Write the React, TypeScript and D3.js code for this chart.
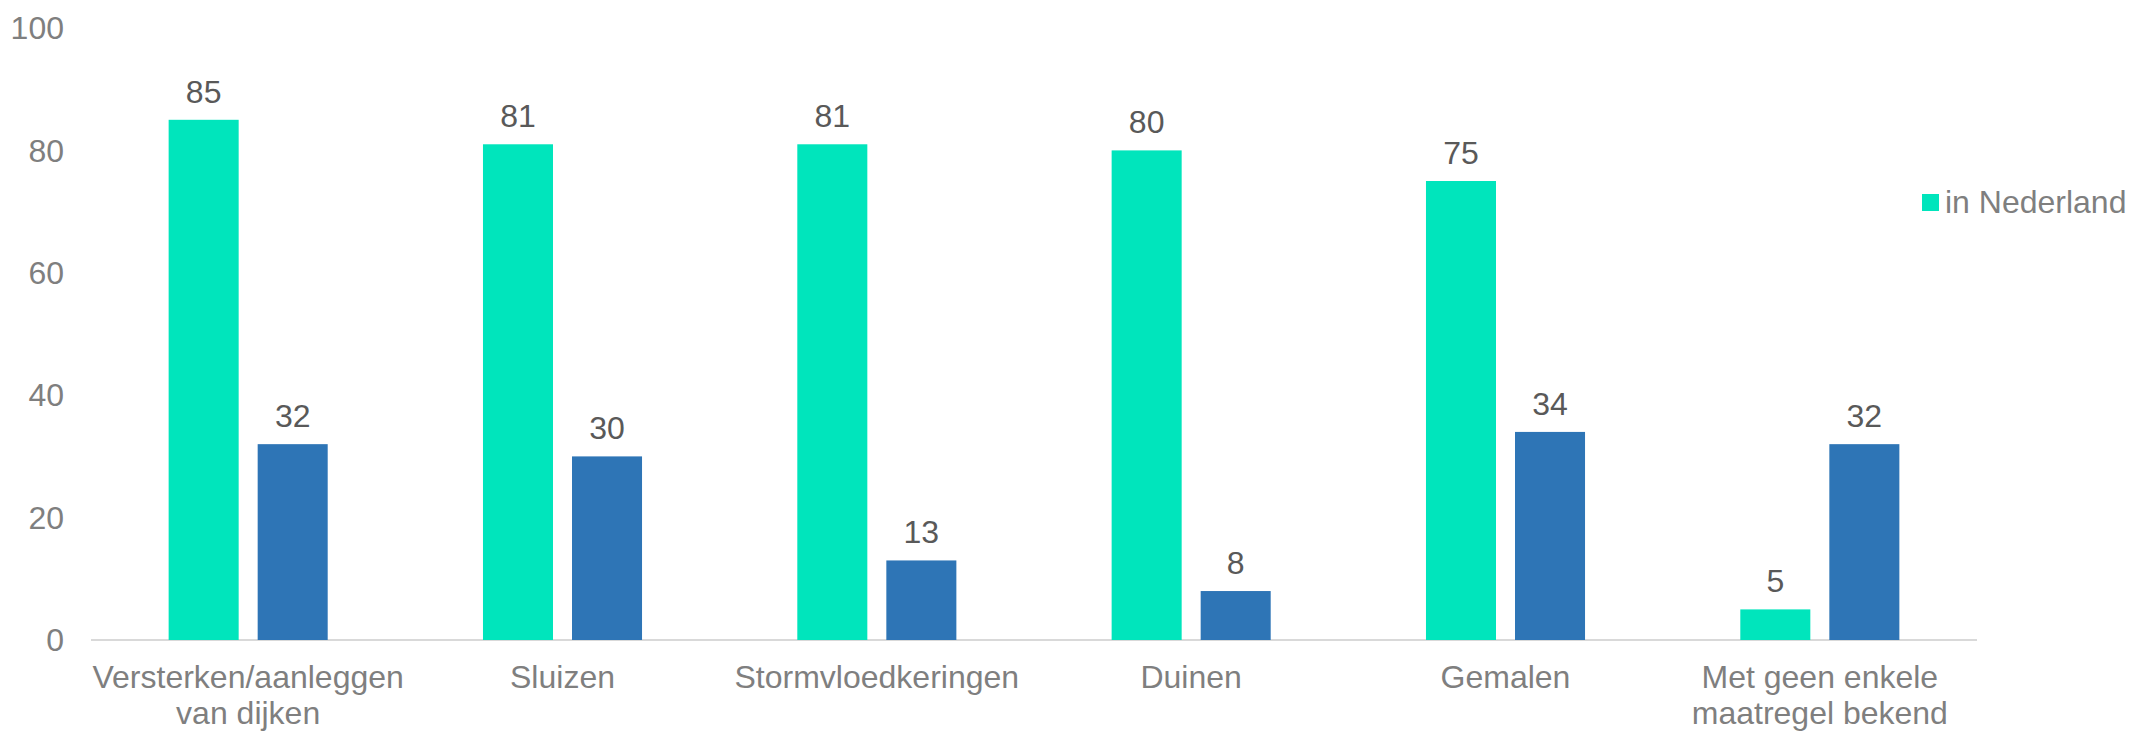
import React, { useEffect } from "react";
import * as d3 from "d3";

const categories: string[][] = [
  ["Versterken/aanleggen", "van dijken"],
  ["Sluizen"],
  ["Stormvloedkeringen"],
  ["Duinen"],
  ["Gemalen"],
  ["Met geen enkele", "maatregel bekend"],
];
const seriesNames = ["in Nederland", "in eigen omgeving"];
const nederland = [85, 81, 81, 80, 75, 5];
const eigen = [32, 30, 13, 8, 34, 32];
const yTicks = [0, 20, 40, 60, 80, 100];
const colors = ["#00E5BC", "#2E75B6"];

const W = 2131;
const H = 731;
const FONT = "'Liberation Sans', Arial, sans-serif";
const FS = 32;

export default function App() {
  useEffect(() => {
    document.body.style.margin = "0";
  }, []);

  const keys = categories.map((c) => c.join(" "));
  const x0 = d3.scaleBand<string>().domain(keys).range([91, 1977]).padding(0);
  const x1 = d3
    .scaleBand<string>()
    .domain(seriesNames)
    .range([0, x0.bandwidth()])
    .paddingInner(0.2135)
    .paddingOuter(0.872);
  const y = d3.scaleLinear().domain([0, 100]).range([640, 28]);
  const values = [nederland, eigen];

  return (
    <svg width={W} height={H} style={{ display: "block", background: "#fff" }} fontFamily={FONT}>
      {yTicks.map((t) => (
        <text key={t} x={64} y={y(t)} dy="0.35em" textAnchor="end" fontSize={FS} fill="#7F7F7F">
          {t}
        </text>
      ))}
      <line x1={91} x2={1977} y1={y(0)} y2={y(0)} stroke="#D9D9D9" strokeWidth={2} />
      {keys.map((k, i) => (
        <g key={k} transform={`translate(${x0(k)},0)`}>
          {seriesNames.map((s, si) => {
            const v = values[si][i];
            const bx = x1(s)!;
            return (
              <g key={s}>
                <rect x={bx} y={y(v)} width={x1.bandwidth()} height={y(0) - y(v)} fill={colors[si]} />
                <text
                  x={bx + x1.bandwidth() / 2}
                  y={y(v) - 17}
                  textAnchor="middle"
                  fontSize={FS}
                  fill="#595959"
                >
                  {v}
                </text>
              </g>
            );
          })}
          {categories[i].map((line, li) => (
            <text
              key={li}
              x={x0.bandwidth() / 2}
              y={688 + li * 36}
              textAnchor="middle"
              fontSize={FS}
              fill="#7F7F7F"
            >
              {line}
            </text>
          ))}
        </g>
      ))}
      <g>
        <rect x={1922} y={194} width={17} height={17} fill={colors[0]} />
        <text x={1945} y={202} dy="0.35em" fontSize={FS} fill="#7F7F7F">
          {seriesNames[0]}
        </text>
      </g>
    </svg>
  );
}
